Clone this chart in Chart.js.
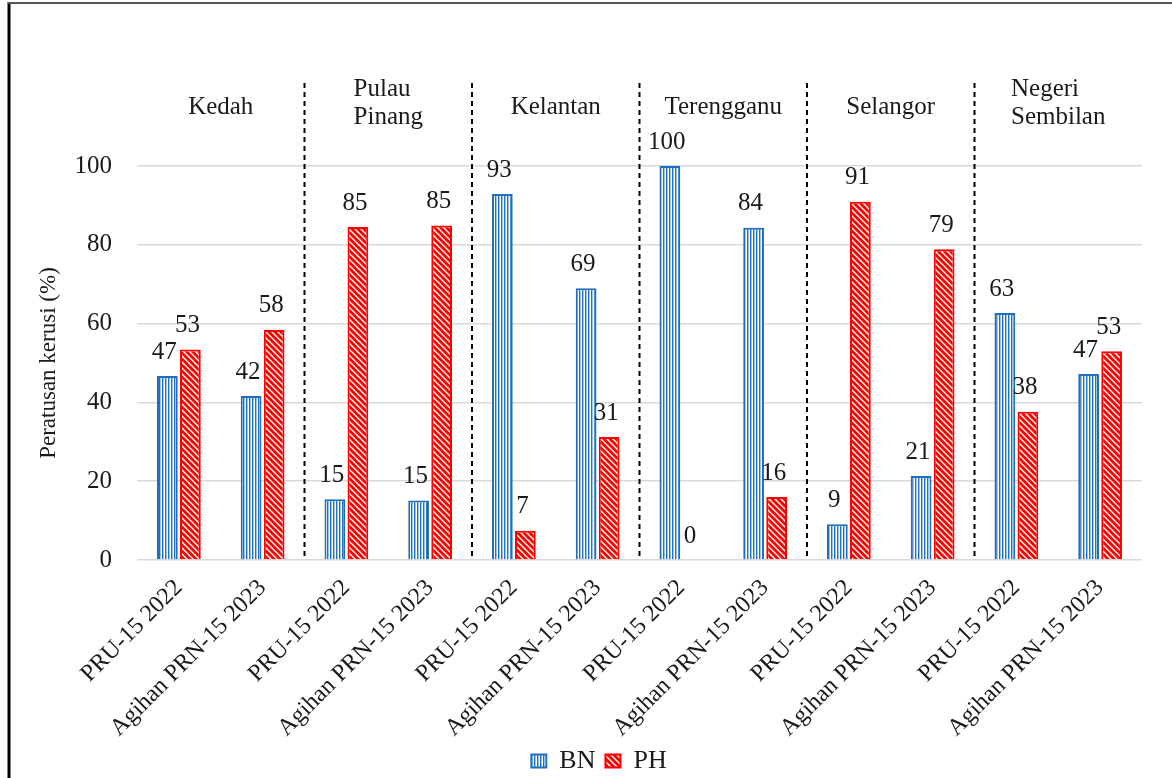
<!DOCTYPE html>
<html>
<head>
<meta charset="utf-8">
<script src="https://cdn.jsdelivr.net/npm/chart.js@4/dist/chart.umd.min.js"></script>
<style>
  html, body { margin: 0; padding: 0; background: #fff; }
  #wrap { position: relative; width: 1172px; height: 778px; }
</style>
</head>
<body>
<div id="wrap"><canvas id="chart"></canvas></div>
<script>
// categories (two per state) and the state names above them
const categories = [
    'PRU-15 2022', 'Agihan PRN-15 2023',
    'PRU-15 2022', 'Agihan PRN-15 2023',
    'PRU-15 2022', 'Agihan PRN-15 2023',
    'PRU-15 2022', 'Agihan PRN-15 2023',
    'PRU-15 2022', 'Agihan PRN-15 2023',
    'PRU-15 2022', 'Agihan PRN-15 2023'
];
const states = ['Kedah', ['Pulau', 'Pinang'], 'Kelantan', 'Terengganu', 'Selangor', ['Negeri', 'Sembilan']];

// seat share (%)
const bnValues = [46.7, 41.6, 15.4, 15.1, 92.9, 69.0, 100, 84.3, 9.1, 21.3, 62.7, 47.2];
const phValues = [53.4, 58.4, 84.5, 84.9, 7.4, 31.2, 0, 16.0, 90.9, 78.9, 37.6, 53.0];
const yTicks = [0, 20, 40, 60, 80, 100];
const yTitle = 'Peratusan kerusi (%)';

const FONT = '"Liberation Serif", "Times New Roman", serif';
const TEXT = '#1a1a1a';

// striped fills like the Excel pattern fills
function bnPattern() {
    const c = document.createElement('canvas');
    c.width = 3; c.height = 3;
    const g = c.getContext('2d');
    g.fillStyle = '#1f72c4'; g.fillRect(0, 0, 1, 3);
    g.fillStyle = '#9cc3e8'; g.fillRect(1, 0, 1, 3);
    g.fillStyle = '#ffffff'; g.fillRect(2, 0, 1, 3);
    return g.createPattern(c, 'repeat');
}
function phPattern() {
    const c = document.createElement('canvas');
    c.width = 6; c.height = 6;
    const g = c.getContext('2d');
    g.fillStyle = '#ff0000'; g.fillRect(0, 0, 6, 6);
    g.strokeStyle = '#ffffff'; g.lineWidth = 1.4;
    g.beginPath();
    g.moveTo(-1, -1); g.lineTo(7, 7);
    g.moveTo(-4, 2); g.lineTo(2, 8);
    g.moveTo(2, -4); g.lineTo(8, 2);
    g.stroke();
    return g.createPattern(c, 'repeat');
}

// frame, axis title, group separators and state names
const decorations = {
    id: 'decorations',
    beforeDraw(chart) {
        const ctx = chart.ctx;
        ctx.save();
        ctx.strokeStyle = '#000';
        ctx.lineWidth = 3;
        ctx.beginPath(); ctx.moveTo(9, 2); ctx.lineTo(9, chart.height); ctx.stroke();
        ctx.strokeStyle = '#555';
        ctx.lineWidth = 2;
        ctx.beginPath(); ctx.moveTo(8, 3); ctx.lineTo(chart.width, 3); ctx.stroke();
        ctx.restore();
    },
    afterDraw(chart) {
        const ctx = chart.ctx;
        const x = chart.scales.x;
        const area = chart.chartArea;
        ctx.save();
        ctx.strokeStyle = '#000';
        ctx.lineWidth = 2;
        ctx.setLineDash([5, 4]);
        for (let i = 1; i < states.length; i++) {
            const px = (x.getPixelForTick(i * 2 - 1) + x.getPixelForTick(i * 2)) / 2;
            ctx.beginPath(); ctx.moveTo(px, 83); ctx.lineTo(px, area.bottom); ctx.stroke();
        }
        ctx.setLineDash([]);
        ctx.fillStyle = TEXT;
        ctx.textBaseline = 'middle';

        ctx.save();
        ctx.font = '23px ' + FONT;
        ctx.textAlign = 'center';
        ctx.translate(49, (area.top + area.bottom) / 2);
        ctx.rotate(-Math.PI / 2);
        ctx.fillText(yTitle, 0, 0);
        ctx.restore();

        ctx.font = '25px ' + FONT;
        states.forEach((s, i) => {
            const cx = (x.getPixelForTick(i * 2) + x.getPixelForTick(i * 2 + 1)) / 2;
            if (Array.isArray(s)) {
                const w = Math.max(...s.map(t => ctx.measureText(t).width));
                ctx.textAlign = 'left';
                s.forEach((t, j) => ctx.fillText(t, cx - w / 2, 89 + j * 28));
            } else {
                ctx.textAlign = 'center';
                ctx.fillText(s, cx, 107);
            }
        });
        ctx.restore();
    }
};

// value labels above the bars
const valueLabels = {
    id: 'valueLabels',
    afterDatasetsDraw(chart) {
        const ctx = chart.ctx;
        ctx.save();
        ctx.font = '25px ' + FONT;
        ctx.fillStyle = TEXT;
        ctx.textAlign = 'center';
        ctx.textBaseline = 'middle';
        chart.data.datasets.forEach((ds, di) => {
            chart.getDatasetMeta(di).data.forEach((el, i) => {
                ctx.fillText(String(Math.round(ds.data[i])), el.x - 3, el.y - 24);
            });
        });
        ctx.restore();
    }
};

new Chart(document.getElementById('chart'), {
    type: 'bar',
    data: {
        labels: categories,
        datasets: [
            {
                label: 'BN',
                data: bnValues,
                backgroundColor: bnPattern(),
                borderColor: '#1f6fc0',
                borderWidth: 2,
                categoryPercentage: 0.55,
                barPercentage: 0.9
            },
            {
                label: 'PH',
                data: phValues,
                backgroundColor: phPattern(),
                borderColor: '#ff0000',
                borderWidth: 2,
                categoryPercentage: 0.55,
                barPercentage: 0.9
            }
        ]
    },
    options: {
        responsive: true,
        maintainAspectRatio: false,
        animation: false,
        layout: { padding: { top: 166, left: 56, right: 30, bottom: -6 } },
        plugins: {
            tooltip: { enabled: false },
            legend: {
                position: 'bottom',
                labels: {
                    font: { family: FONT, size: 26 },
                    color: TEXT,
                    boxWidth: 15,
                    boxHeight: 13,
                    padding: 10
                }
            }
        },
        scales: {
            x: {
                grid: { display: false },
                border: { display: false },
                ticks: {
                    autoSkip: false,
                    minRotation: 45,
                    maxRotation: 45,
                    padding: 6,
                    color: TEXT,
                    font: { family: FONT, size: 24 }
                },
                afterFit: s => { s.height = 178; }
            },
            y: {
                min: 0,
                max: 100,
                afterBuildTicks: s => { s.ticks = yTicks.map(v => ({ value: v })); },
                grid: { color: '#d9d9d9', lineWidth: 1.5, drawTicks: false },
                border: { display: false },
                ticks: {
                    padding: 25,
                    color: TEXT,
                    font: { family: FONT, size: 25 }
                },
                afterFit: s => { s.width = 81; }
            }
        }
    },
    plugins: [decorations, valueLabels]
});
</script>
</body>
</html>
